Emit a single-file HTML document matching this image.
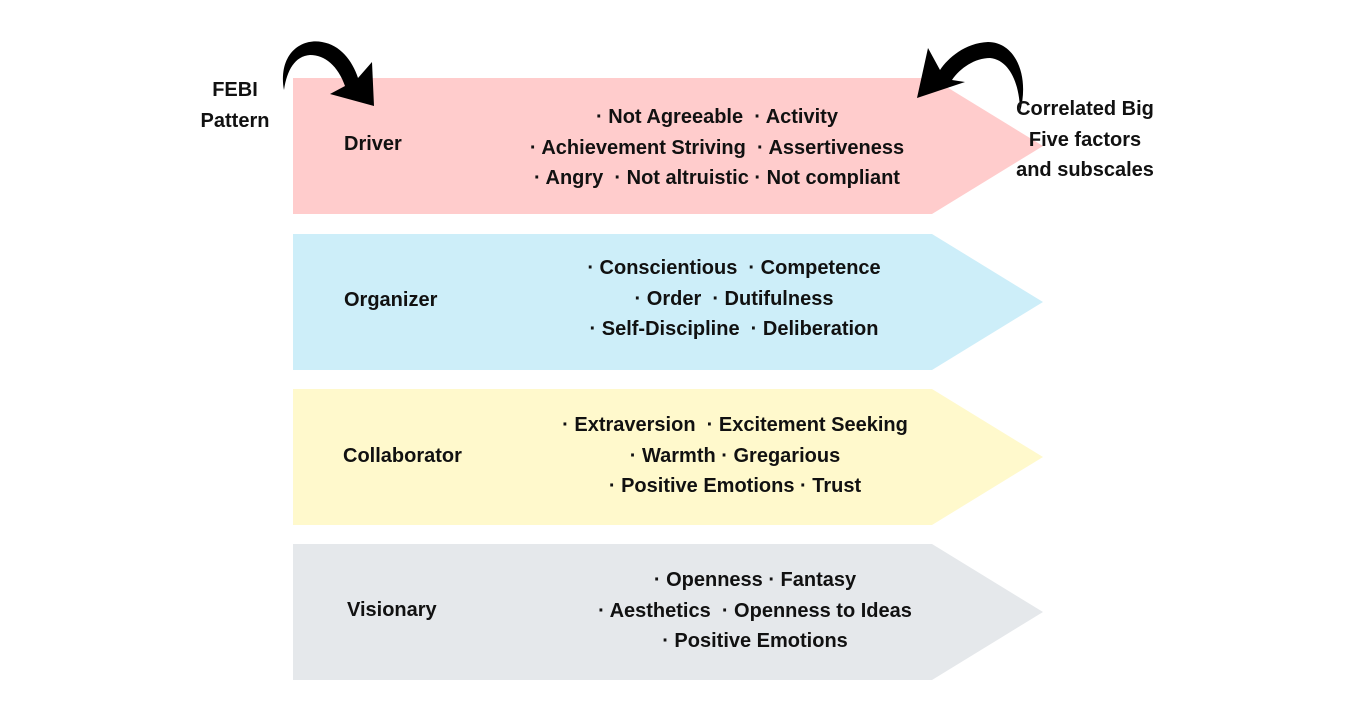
<!DOCTYPE html>
<html><head><style>
body{margin:0;background:#fff;width:1358px;height:720px;overflow:hidden;position:relative;font-family:"Liberation Sans",sans-serif;font-weight:bold;color:#111}
.t{position:absolute;font-size:20px;white-space:nowrap}
.c{position:absolute;font-size:20px;text-align:center;line-height:30.5px;white-space:nowrap}
</style></head><body>
<svg width="1358" height="720" style="position:absolute;left:0;top:0">
<polygon points="293,78 932,78 1043,146 932,214 293,214" fill="#ffcccc"/>
<polygon points="293,234 932,234 1043,302 932,370 293,370" fill="#cdeef9"/>
<polygon points="293,389 932,389 1043,457 932,525 293,525" fill="#fff9cc"/>
<polygon points="293,544 932,544 1043,612 932,680 293,680" fill="#e5e8eb"/>
<path d="M284,90 C278,55 300,38 322,42 C340,45 352,60 358,78 L372,62 L374,106 L330,94 L345,86 C338,66 325,55 310,55 C295,56 287,70 284,90 Z" fill="#000"/>
<path d="M1020,112 C1030,75 1015,42 988,42 C965,43 948,58 940,70 L928,48 L917,98 L965,82 L952,80 C960,68 975,58 990,58 C1010,60 1020,85 1020,112 Z" fill="#000"/>
</svg>
<div class="c" style="left:180px;top:75px;width:110px;">FEBI<br>Pattern</div>
<div class="c" style="left:995px;top:94px;width:180px;">Correlated Big<br>Five factors<br>and subscales</div>
<div class="t" style="left:344px;top:133px">Driver</div>
<div class="t" style="left:344px;top:289px">Organizer</div>
<div class="t" style="left:343px;top:445px">Collaborator</div>
<div class="t" style="left:347px;top:599px">Visionary</div>
<div class="c" style="left:467px;top:102px;width:500px;">· Not Agreeable &nbsp;· Activity<br>· Achievement Striving &nbsp;· Assertiveness<br>· Angry &nbsp;· Not altruistic · Not compliant</div>
<div class="c" style="left:484px;top:253px;width:500px;">· Conscientious &nbsp;· Competence<br>· Order &nbsp;· Dutifulness<br>· Self-Discipline &nbsp;· Deliberation</div>
<div class="c" style="left:485px;top:410px;width:500px;">· Extraversion &nbsp;· Excitement Seeking<br>· Warmth · Gregarious<br>· Positive Emotions · Trust</div>
<div class="c" style="left:505px;top:565px;width:500px;">· Openness · Fantasy<br>· Aesthetics &nbsp;· Openness to Ideas<br>· Positive Emotions</div>
</body></html>
